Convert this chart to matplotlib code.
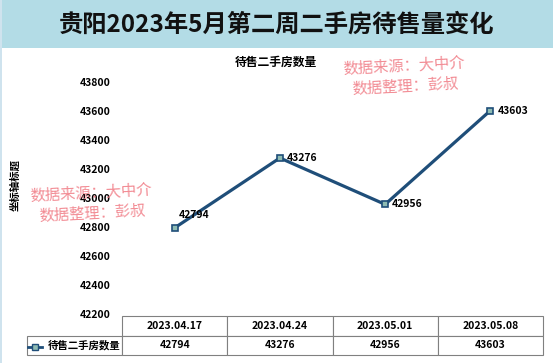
import numpy as np
import matplotlib.pyplot as plt

plt.rcParams['font.family'] = ['Noto Sans CJK SC', 'DejaVu Sans']

# data
dates = ['2023.04.17', '2023.04.24', '2023.05.01', '2023.05.08']
counts = [42794, 43276, 42956, 43603]
series_name = '待售二手房数量'
title = '贵阳2023年5月第二周二手房待售量变化'
yticks = [42200, 42400, 42600, 42800, 43000, 43200, 43400, 43600, 43800]

line_c = '#1f4e79'
marker_c = '#8fbcb3'
wm_c = '#f07882'

fig = plt.figure(figsize=(5.53, 3.63), dpi=100)
fig.patch.set_facecolor('white')

# title band
fig.patches.append(plt.Rectangle((0, 1 - 48 / 363), 1, 48 / 363, transform=fig.transFigure,
                                 facecolor='#b3dce6', edgecolor='none', zorder=0))
fig.patches.append(plt.Rectangle((0, 0), 2 / 553, 1, transform=fig.transFigure,
                                 facecolor='#cfe3ee', edgecolor='none', zorder=0))
fig.text(0.5, 1 - 25 / 363, title, ha='center', va='center', fontsize=17.5,
         fontweight='bold', color='#111111')

# plot area: x 122..543 px, y 42200 at 314 px, 44000 at 53 px
ax = fig.add_axes([122 / 553, (363 - 314) / 363, 421 / 553, (314 - 53) / 363])
ax.set_facecolor('none')
x = np.arange(len(dates))
ax.plot(x, counts, color=line_c, lw=2.3, marker='s', ms=5,
        mfc=marker_c, mec=line_c, mew=1.2, zorder=3)
for i, v in enumerate(counts):
    if i == 0:
        ax.annotate(str(v), (i, v), xytext=(3, 9), textcoords='offset points',
                    ha='left', va='center', fontsize=7.5, fontweight='bold')
    else:
        ax.annotate(str(v), (i, v), xytext=(5, 0), textcoords='offset points',
                    ha='left', va='center', fontsize=7.5, fontweight='bold')

ax.set_xlim(-0.5, len(dates) - 0.5)
ax.set_ylim(42200, 44000)
ax.set_yticks(yticks)
ax.set_yticklabels([str(t) for t in yticks], fontsize=7.5, fontweight='bold')
ax.tick_params(axis='y', length=0, pad=8)
ax.set_xticks([])
for s in ax.spines.values():
    s.set_visible(False)

fig.text(276 / 553, 1 - 62 / 363, series_name, ha='center', va='center',
         fontsize=8.5, fontweight='bold')

fig.text(15 / 553, 1 - 185 / 363, '坐标轴标题', rotation=90, ha='center', va='center',
         fontsize=7.5, fontweight='bold')

# watermarks
for cx, cy in [(405, 76), (92, 203)]:
    fig.text(cx / 553, 1 - cy / 363, '数据来源：大中介\n数据整理：彭叔', ha='center',
             va='center', fontsize=11, color=wm_c, rotation=3, linespacing=1.25,
             alpha=0.85, zorder=5)

# data table
cells = [[series_name] + [str(v) for v in counts]]
tab = ax.table(cellText=cells, colLabels=[''] + dates, cellLoc='center',
               colWidths=[95] + [105.25] * len(dates),
               bbox=[-95 / 421, -41 / 261, 1 + 95 / 421, 39 / 261])
tab.auto_set_font_size(False)
for (r, c), cell in tab.get_celld().items():
    cell.set_edgecolor('#808080')
    cell.set_linewidth(0.8)
    cell.get_text().set_fontsize(7.5)
    cell.get_text().set_fontweight('bold')
    if r == 0 and c == 0:
        cell.set_edgecolor('none')
    if r == 1 and c == 0:
        cell.get_text().set_ha('right')
        cell._loc = 'right'
        cell.PAD = 0.02

# legend key in the row header cell
ax.plot([-94 / 421, -80 / 421], [-33 / 261, -33 / 261], transform=ax.transAxes,
        color=line_c, lw=2, clip_on=False)
ax.plot([-87 / 421], [-33 / 261], transform=ax.transAxes, marker='s', ms=4.5,
        mfc=marker_c, mec=line_c, mew=1, clip_on=False)

fig.savefig('out.png', dpi=100)
